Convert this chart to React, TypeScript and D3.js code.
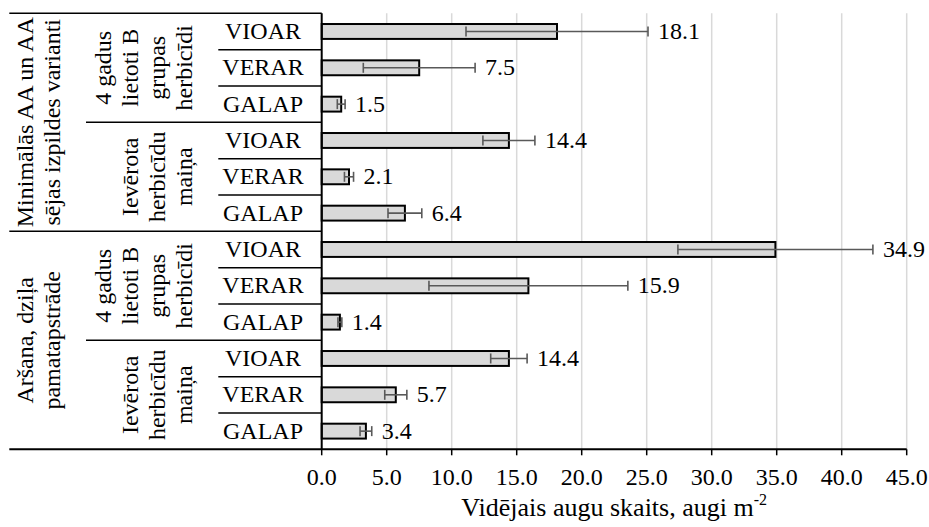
import React from "react";
import * as d3 from "d3";

// Mean plant counts (plants per m²) per weed species, herbicide regime and tillage
const SPECIES = ["VIOAR", "VERAR", "GALAP"];
const HERBICIDE_GROUPS = [
  ["4 gadus", "lietoti B", "grupas", "herbicīdi"],
  ["Ievērota", "herbicīdu", "maiņa"],
];
const TILLAGE_GROUPS = [
  ["Minimālās AA un AA", "sējas izpildes varianti"],
  ["Aršana, dziļa", "pamatapstrāde"],
];
// Top to bottom: tillage → herbicide regime → species
const MEANS = [18.1, 7.5, 1.5, 14.4, 2.1, 6.4, 34.9, 15.9, 1.4, 14.4, 5.7, 3.4];
const ERRORS = [7.0, 4.3, 0.3, 2.0, 0.35, 1.3, 7.5, 7.65, 0.15, 1.4, 0.85, 0.45];
const X_TICKS = [0, 5, 10, 15, 20, 25, 30, 35, 40, 45];
const X_TITLE = "Vidējais augu skaits, augi m";
const X_TITLE_SUP = "-2";

const W = 929;
const H = 527;
const FONT = "Liberation Serif, Tinos, Times New Roman, serif";
const FS = 24;

export default function App() {
  const plotLeft = 321.7;
  const plotRight = 906.7;
  const plotTop = 13.3;
  const plotBottom = 449.3;
  const edgeX = 9.3;
  const herbColX = 86;
  const speciesColX = 218.3;

  const rows = TILLAGE_GROUPS.flatMap((t, ti) =>
    HERBICIDE_GROUPS.flatMap((h, hi) =>
      SPECIES.map((s, si) => ({ ti, hi, si, species: s }))
    )
  ).map((r, i) => ({ ...r, id: `r${i}`, value: MEANS[i], err: ERRORS[i] }));

  const x = d3.scaleLinear().domain([0, 45]).range([plotLeft, plotRight]);
  const y = d3
    .scaleBand<string>()
    .domain(rows.map((r) => r.id))
    .range([plotTop, plotBottom])
    .paddingInner(0)
    .paddingOuter(0);
  const bw = y.bandwidth();
  const barH = bw * 0.41;

  const perTillage = HERBICIDE_GROUPS.length * SPECIES.length;
  const perHerb = SPECIES.length;

  // boundary lines of the nested category axis
  const catLines: { y: number; x0: number }[] = [];
  for (let i = 1; i < rows.length; i++) {
    const yy = y(rows[i].id)!;
    let x0 = speciesColX;
    if (i % perTillage === 0) x0 = edgeX;
    else if (i % perHerb === 0) x0 = herbColX;
    catLines.push({ y: yy, x0 });
  }

  const lh = 27;
  const pad = 26;

  return (
    <svg
      width={W}
      height={H}
      style={{ position: "fixed", left: 0, top: 0, background: "#fff", fontFamily: FONT }}
    >
      <rect width={W} height={H} fill="#fff" />
      {/* vertical gridlines */}
      {X_TICKS.filter((t) => t > 0).map((t) => (
        <line
          key={`g${t}`}
          x1={x(t)}
          x2={x(t)}
          y1={plotTop}
          y2={plotBottom}
          stroke="#d9d9d9"
          strokeWidth={1.5}
        />
      ))}

      {/* bars */}
      {rows.map((r) => {
        const cy = y(r.id)! + bw / 2;
        return (
          <rect
            key={`b${r.id}`}
            x={x(0)}
            y={cy - barH / 2}
            width={x(r.value) - x(0)}
            height={barH}
            fill="#d9d9d9"
            stroke="#000"
            strokeWidth={2}
          />
        );
      })}

      {/* error bars */}
      {rows.map((r) => {
        const cy = y(r.id)! + bw / 2;
        const xa = x(r.value - r.err);
        const xb = x(r.value + r.err);
        return (
          <g key={`e${r.id}`} stroke="#595959" strokeWidth={1.6}>
            <line x1={xa} x2={xb} y1={cy} y2={cy} />
            <line x1={xa} x2={xa} y1={cy - 5} y2={cy + 5} />
            <line x1={xb} x2={xb} y1={cy - 5} y2={cy + 5} />
          </g>
        );
      })}

      {/* value labels */}
      {rows.map((r) => {
        const cy = y(r.id)! + bw / 2;
        return (
          <text
            key={`v${r.id}`}
            x={x(r.value + r.err) + 10}
            y={cy + FS * 0.32}
            fontSize={FS}
            fill="#000"
          >
            {r.value.toFixed(1)}
          </text>
        );
      })}

      {/* category axis frame */}
      <line x1={edgeX} x2={plotLeft} y1={plotTop} y2={plotTop} stroke="#000" strokeWidth={1.5} />
      {catLines.map((l, i) => (
        <line key={`c${i}`} x1={l.x0} x2={plotLeft} y1={l.y} y2={l.y} stroke="#000" strokeWidth={1.5} />
      ))}
      <line x1={plotLeft} x2={plotLeft} y1={plotTop} y2={plotBottom} stroke="#000" strokeWidth={2} />

      {/* value axis */}
      <line x1={edgeX} x2={plotRight} y1={plotBottom} y2={plotBottom} stroke="#000" strokeWidth={2} />
      {X_TICKS.map((t) => (
        <g key={`t${t}`}>
          <line x1={x(t)} x2={x(t)} y1={plotBottom} y2={plotBottom + 6} stroke="#000" strokeWidth={1.5} />
          <text x={x(t)} y={485} textAnchor="middle" fontSize={FS} fill="#000">
            {t.toFixed(1)}
          </text>
        </g>
      ))}
      <text x={(plotLeft + plotRight) / 2} y={516} textAnchor="middle" fontSize={26} fill="#000">
        {X_TITLE}
        <tspan fontSize={16} dy={-11}>
          {X_TITLE_SUP}
        </tspan>
      </text>

      {/* species labels */}
      {rows.map((r) => (
        <text
          key={`s${r.id}`}
          x={263}
          y={y(r.id)! + bw / 2 + FS * 0.31}
          textAnchor="middle"
          fontSize={FS}
          fill="#000"
        >
          {r.species}
        </text>
      ))}

      {/* herbicide regime labels (rotated) */}
      {TILLAGE_GROUPS.flatMap((_, ti) =>
        HERBICIDE_GROUPS.map((lines, hi) => {
          const start = ti * perTillage + hi * perHerb;
          const y0 = y(rows[start].id)!;
          const y1 = y(rows[start + perHerb - 1].id)! + bw;
          const cy = (y0 + y1) / 2;
          const lastX = speciesColX - pad;
          return lines.map((ln, li) => {
            const bx = lastX - (lines.length - 1 - li) * lh;
            return (
              <text
                key={`h${ti}-${hi}-${li}`}
                transform={`translate(${bx},${cy}) rotate(-90)`}
                textAnchor="middle"
                fontSize={FS}
                fill="#000"
              >
                {ln}
              </text>
            );
          });
        })
      )}

      {/* tillage labels (rotated) */}
      {TILLAGE_GROUPS.map((lines, ti) => {
        const start = ti * perTillage;
        const y0 = y(rows[start].id)!;
        const y1 = y(rows[start + perTillage - 1].id)! + bw;
        const cy = (y0 + y1) / 2;
        const lastX = herbColX - pad;
        return lines.map((ln, li) => {
          const bx = lastX - (lines.length - 1 - li) * lh;
          return (
            <text
              key={`tl${ti}-${li}`}
              transform={`translate(${bx},${cy}) rotate(-90)`}
              textAnchor="middle"
              fontSize={FS}
              fill="#000"
            >
              {ln}
            </text>
          );
        });
      })}
    </svg>
  );
}
